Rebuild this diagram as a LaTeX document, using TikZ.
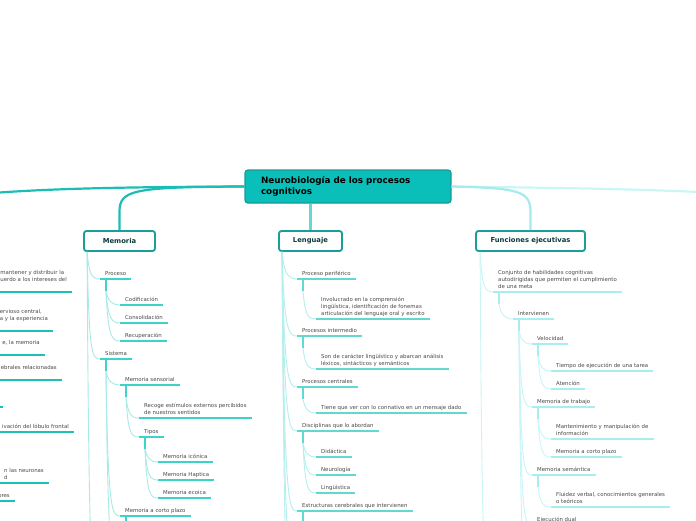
\documentclass[tikz,border=0pt]{standalone}
\usepackage{fontspec}
\setmainfont{DejaVu Sans}
\usetikzlibrary{calc}
\definecolor{rootfill}{HTML}{0ABFBA}
\definecolor{rootedge}{HTML}{199B97}
\definecolor{boxedge}{HTML}{1B9D9A}
\definecolor{boxtext}{HTML}{0B3C3A}
\definecolor{itemtext}{HTML}{4A4A4A}
\definecolor{memline}{HTML}{1CBDB4}
\definecolor{memul}{HTML}{3ED3C9}
\definecolor{memlk}{HTML}{A8EBE6}
\definecolor{lenline}{HTML}{68D7D1}
\definecolor{lenul}{HTML}{62D8D1}
\definecolor{lenlk}{HTML}{B4EFEB}
\definecolor{funline}{HTML}{A4EBED}
\definecolor{funul}{HTML}{A6EEF0}
\definecolor{funlk}{HTML}{C8F5F6}
\definecolor{farline}{HTML}{CBF6F7}
\definecolor{leftul}{HTML}{1FC0B7}
\tikzset{
  root/.style={draw=rootedge,line width=1.3pt,fill=rootfill,rounded corners=3pt,
               minimum width=206pt,minimum height=33pt,inner xsep=16pt,text width=174pt,
               align=left,font=\fontsize{8.8}{11}\selectfont\bfseries},
  topic/.style={draw=boxedge,line width=1.8pt,fill=white,rounded corners=2.5pt,
                minimum height=20pt,text=boxtext,font=\fontsize{6.8}{8}\selectfont\bfseries},
  item/.style={anchor=south west,inner xsep=5pt,inner ysep=1.8pt,text depth=2pt,
               align=left,text=itemtext,font=\fontsize{5.4}{6.9}\selectfont},
  litem/.style={item,anchor=south east},
  trunk/.style={line width=2.2pt},
  ul/.style={line width=1.4pt},
  lk/.style={line width=0.9pt},
}
% curved link from a parent point down to a child's underline
\newcommand\twig[3]{\draw[lk,#1] let \p1=(#2), \p2=(#3) in
  (\p1) .. controls (\x1+2pt,\y2+4pt) and (\x2-8pt,\y2) .. (\p2);}

\begin{document}
\begin{tikzpicture}[x=1pt,y=-1pt,
  stub/.style={ul,line cap=butt}]
\useasboundingbox (0,0) rectangle (696,520);
\clip (0,0) rectangle (696,520);
\fill[white] (0,0) rectangle (696,520);

% central topic and main branches
\node[root] (root) at (348,186.5) {Neurobiología de los procesos\\cognitivos};
\node[topic,minimum width=71pt] (memo) at (119.5,241) {Memoria};
\node[topic,minimum width=63pt] (leng) at (310.5,241) {Lenguaje};
\node[topic,minimum width=109pt] (func) at (530.5,241) {Funciones ejecutivas};

\coordinate (farleft) at (-20,194);
\coordinate (farright) at (720,193);
\draw[trunk,memline] (root.west) .. controls (110,187) and (40,189) .. (farleft);
\draw[trunk,memline] (root.west) .. controls (132,187) and (memo.north |- 0,190) .. (memo.north |- 0,212) -- (memo.north);
\draw[trunk,lenline] (root.south -| leng.north) -- (leng.north);
\draw[trunk,farline] (root.east) .. controls (570,188) and (640,189) .. (farright);
\draw[trunk,funline] (root.east) .. controls (519,188) and (func.north |- 0,191) .. (func.north |- 0,212) -- (func.north);

% left branch, cut by the frame
\node[litem] (l1) at (72,292) {mantener y distribuir la\\uerdo a los intereses del\\\mbox{}};
\node[litem] (l2) at (53,331) {ervioso central,\\a y la experiencia\\\mbox{}};
\node[litem] (l3) at (45,355) {e, la memoria\\\mbox{}};
\node[litem] (l4) at (62,380) {ebrales relacionadas\\\mbox{}};
\node[litem,minimum width=20pt] (l5) at (3,407) {};
\node[litem] (l6) at (74,432) {ivación del lóbulo frontal};
\node[litem] (l7) at (49,483) {n las neuronas\\d};
\node[litem] (l8) at (15,501) {ores};
\foreach \k in {l1,l2,l3,l4,l5,l6,l7,l8}
  \draw[ul,leftul,line width=1.6pt] (\k.south west) -- (\k.south east);

% Memoria
\node[item] (proc) at (100,279) {Proceso};
\node[item] (cod) at (120,305) {Codificación};
\node[item] (cons) at (120,323) {Consolidación};
\node[item] (recu) at (120,341) {Recuperación};
\node[item] (sist) at (100,359) {Sistema};
\node[item] (msens) at (120,385) {Memoria sensorial};
\node[item] (recoge) at (139,418) {Recoge estímulos externos percibidos\\de nuestros sentidos};
\node[item] (tipos) at (139,437) {Tipos};
\node[item] (icon) at (158,462) {Memoria icónica};
\node[item] (hapt) at (158,480) {Memoria Haptica};
\node[item] (ecoi) at (158,498) {Memoria ecoica};
\node[item] (mcorto) at (120,516) {Memoria a corto plazo};

\coordinate (memo-s) at ([xshift=4pt]memo.south west);
\coordinate (memo-more) at (100,600);
\coordinate (sist-more) at (120,570);
\foreach \k in {proc,sist,msens,tipos,mcorto}
  \draw[stub,memul] ([xshift=6pt]\k.south west) -- ++(0,12) coordinate (\k-s);
\foreach \k in {proc,sist} {\twig{memlk}{memo-s}{\k.south west}}
\twig{memlk}{memo-s}{memo-more}
\foreach \k in {cod,cons,recu} {\twig{memlk}{proc-s}{\k.south west}}
\foreach \k in {msens,mcorto} {\twig{memlk}{sist-s}{\k.south west}}
\twig{memlk}{sist-s}{sist-more}
\foreach \k in {recoge,tipos} {\twig{memlk}{msens-s}{\k.south west}}
\foreach \k in {icon,hapt,ecoi} {\twig{memlk}{tipos-s}{\k.south west}}
\foreach \k in {proc,cod,cons,recu,sist,msens,recoge,tipos,icon,hapt,ecoi,mcorto}
  \draw[ul,memul] (\k.south west) -- (\k.south east);

% Lenguaje
\node[item] (pperi) at (297,279) {Proceso periférico};
\node[item] (invol) at (316,319) {Involucrado en la comprensión\\lingüística, identificación de fonemas\\articulación del lenguaje oral y escrito};
\node[item] (pinter) at (297,336) {Procesos intermedio};
\node[item] (caract) at (316,369) {Son de carácter lingüístico y abarcan análisis\\léxicos, sintácticos y semánticos};
\node[item] (pcent) at (297,387) {Procesos centrales};
\node[item] (connat) at (316,413) {Tiene que ver con lo connativo en un mensaje dado};
\node[item] (disc) at (297,431) {Disciplinas que lo abordan};
\node[item] (dida) at (316,457) {Didáctica};
\node[item] (neuro) at (316,475) {Neurología};
\node[item] (lingu) at (316,493) {Lingüística};
\node[item] (estru) at (297,511) {Estructuras cerebrales que intervienen};

\coordinate (leng-s) at ([xshift=4pt]leng.south west);
\coordinate (leng-more) at (297,570);
\coordinate (leng-more2) at (297,640);
\foreach \k in {pperi,pinter,pcent,disc,estru}
  \draw[stub,lenul] ([xshift=6pt]\k.south west) -- ++(0,12) coordinate (\k-s);
\foreach \k in {pperi,pinter,pcent,disc,estru} {\twig{lenlk}{leng-s}{\k.south west}}
\twig{lenlk}{leng-s}{leng-more}
\twig{lenlk}{leng-s}{leng-more2}
\twig{lenlk}{pperi-s}{invol.south west}
\twig{lenlk}{pinter-s}{caract.south west}
\twig{lenlk}{pcent-s}{connat.south west}
\foreach \k in {dida,neuro,lingu} {\twig{lenlk}{disc-s}{\k.south west}}
\foreach \k in {pperi,invol,pinter,caract,pcent,connat,disc,dida,neuro,lingu,estru}
  \draw[ul,lenul] (\k.south west) -- (\k.south east);

% Funciones ejecutivas
\node[item] (conj) at (493,292) {Conjunto de habilidades cognitivas\\autodirigidas que permiten el cumplimiento\\de una meta};
\node[item] (interv) at (513,319) {Intervienen};
\node[item] (velo) at (532,344) {Velocidad};
\node[item] (tiempo) at (551,371) {Tiempo de ejecución de una tarea};
\node[item] (atenc) at (551,389) {Atención};
\node[item] (mtrab) at (532,407) {Memoria de trabajo};
\node[item] (mante) at (551,439) {Mantenimiento y manipulación de\\información};
\node[item] (mcp) at (551,457) {Memoria a corto plazo};
\node[item] (msem) at (532,475) {Memoria semántica};
\node[item] (fluid) at (551,507) {Fluidez verbal, conocimientos generales\\o teóricos};
\node[item] (ejec) at (532,525) {Ejecución dual};

\coordinate (func-s) at ([xshift=5pt]func.south west);
\coordinate (func-more) at (493,600);
\coordinate (interv-more) at (532,590);
\foreach \k in {conj,interv,velo,mtrab,msem}
  \draw[stub,funul] ([xshift=6pt]\k.south west) -- ++(0,12) coordinate (\k-s);
\twig{funlk}{func-s}{conj.south west}
\twig{funlk}{func-s}{func-more}
\twig{funlk}{conj-s}{interv.south west}
\foreach \k in {velo,mtrab,msem,ejec} {\twig{funlk}{interv-s}{\k.south west}}
\twig{funlk}{interv-s}{interv-more}
\foreach \k in {tiempo,atenc} {\twig{funlk}{velo-s}{\k.south west}}
\foreach \k in {mante,mcp} {\twig{funlk}{mtrab-s}{\k.south west}}
\twig{funlk}{msem-s}{fluid.south west}
\foreach \k in {conj,interv,velo,tiempo,atenc,mtrab,mante,mcp,msem,fluid,ejec}
  \draw[ul,funul] (\k.south west) -- (\k.south east);

\end{tikzpicture}
\end{document}
